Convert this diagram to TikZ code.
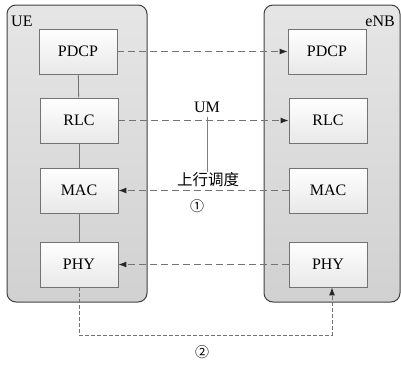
\documentclass[tikz,border=0pt]{standalone}
\usepackage{fontspec}
\setmainfont{Liberation Serif}
\newfontfamily\cjk{Noto Sans CJK SC}
\usetikzlibrary{arrows.meta,shadows}
\tikzset{
  container/.style={draw=black!75, line width=1pt, rounded corners=9pt, top color=black!10, bottom color=black!18, inner sep=0pt},
  layerbox/.style={draw=black!55, line width=0.8pt, top color=white, bottom color=black!9, minimum width=78pt, minimum height=45pt, font=\fontsize{16}{18}\selectfont, inner sep=0pt, drop shadow={shadow xshift=1pt, shadow yshift=-1pt, opacity=0.25}},
  peer/.style={draw=black!55, line width=1.1pt, dash pattern=on 7pt off 4pt, -{Latex[length=8pt,width=6pt,color=black!85]}},
  tag/.style={font=\fontsize{16}{18}\selectfont, inner sep=1pt},
  stack/.style={draw=black!55, line width=0.8pt},
}
\begin{document}
\begin{tikzpicture}[x=1pt,y=-1pt]
\useasboundingbox (0,0) rectangle (401,367);
\node[container, minimum width=140pt, minimum height=297pt] (ue) at (77,153.5) {};
\node[container, minimum width=136pt, minimum height=297pt] (enb) at (332,153.5) {};
\node[tag, anchor=west] (uelabel) at (10,21) {UE};
\node[tag, anchor=east] (enblabel) at (396,21) {eNB};

\node[layerbox] (uepdcp) at (78,51.5) {PDCP};
\node[layerbox] (uerlc) at (79,120.5) {RLC};
\node[layerbox] (uemac) at (79,190.5) {MAC};
\node[layerbox] (uephy) at (79,264.5) {PHY};

\node[layerbox] (enbpdcp) at (327,51.5) {PDCP};
\node[layerbox] (enbrlc) at (328,120.5) {RLC};
\node[layerbox] (enbmac) at (328,190.5) {MAC};
\node[layerbox] (enbphy) at (328,264.5) {PHY};

\draw[stack] (uepdcp) -- (uerlc);
\draw[stack] (uerlc) -- (uemac);
\draw[stack] (uemac) -- (uephy);

\draw[peer] (uepdcp) -- (enbpdcp);
\draw[peer] (uerlc) -- (enbrlc);
\draw[peer] (enbmac) -- (uemac);
\draw[peer] (enbphy) -- (uephy);

\node[tag] (um) at (207,107) {UM};
\node[tag, font=\cjk\fontsize{15.5}{17}\selectfont] (sched) at (208,180) {上行调度};
\draw[draw=black!50, line width=1pt] (207,117) -- (207,172);
\node[tag, font=\cjk\fontsize{14}{16}\selectfont] (c1) at (197,206) {①};

\coordinate (bot) at (0,335);
\draw[draw=black!55, line width=1pt, dash pattern=on 4pt off 2pt, -{Latex[length=8pt,width=6pt,color=black!85]}]
  (uephy.south) -- (uephy.south |- bot) -| ([xshift=4pt]enbphy.south);
\node[tag, font=\cjk\fontsize{14}{16}\selectfont] (c2) at (202,352) {②};
\end{tikzpicture}
\end{document}
